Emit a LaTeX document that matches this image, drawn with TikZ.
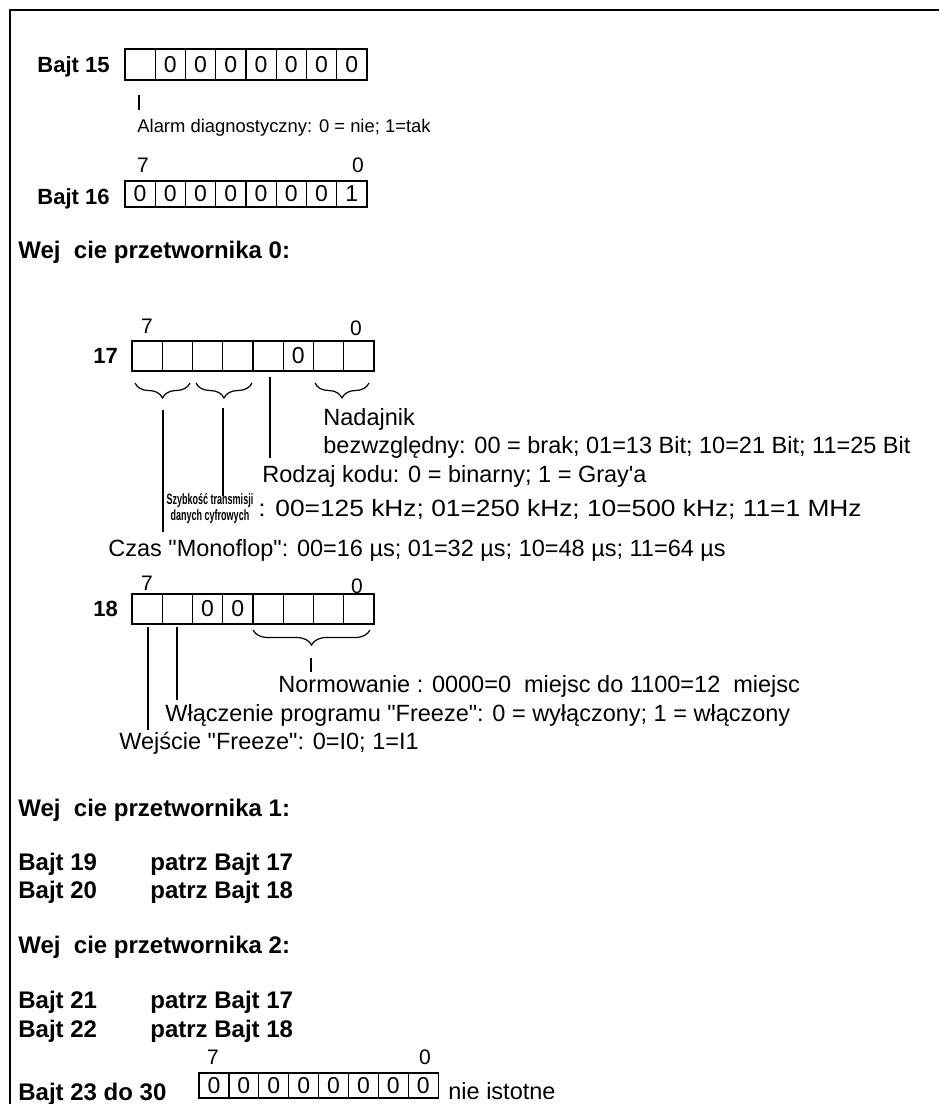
\documentclass[tikz,border=0pt]{standalone}
\usepackage{fontspec}
\newfontfamily\arial{Liberation Sans}
\usetikzlibrary{decorations.pathreplacing}
\newcommand\byterow[6]{% name, x left, y top, cell width, height, values
  \foreach \v [count=\i from 0] in {#6}
    \node[cell, minimum width=#4*0.5pt, minimum height=#5*0.5pt] (#1-\i) at ({#2+#4*\i+#4/2},{#3+#5/2}) {\v};}
\begin{document}
\begin{tikzpicture}[x=0.5pt,y=-0.5pt,
  cell/.style={draw, line width=0.6pt, inner sep=0pt, font=\arial\fontsize{11.5}{13}\selectfont},
  lbl/.style={anchor=base west, inner sep=0pt, font=\arial\fontsize{11.75}{14}\selectfont},
  hd/.style={anchor=base west, inner sep=0pt, font=\arial\fontsize{12}{14}\selectfont\bfseries},
  hds/.style={anchor=base west, inner sep=0pt, font=\arial\fontsize{11}{13}\selectfont\bfseries},
  bitno/.style={anchor=base, inner sep=0pt, font=\arial\fontsize{10.5}{12}\selectfont},
  conn/.style={line width=0.6pt},
  curly/.style={line width=0.6pt, decorate, decoration={brace, mirror, amplitude=7.5pt}},
  frame/.style={line width=1.3pt}
]
\useasboundingbox (0,0) rectangle (939,1104);
% frame (left and top only)
\coordinate (fA) at (10,1104);
\coordinate (fB) at (10,10);
\coordinate (fC) at (939,10);
\draw[frame] (fA) -- (fB) -- (fC);

% ---- Bajt 15
\node[hds] (lb15) at (37,72) {Bajt 15};
\byterow{b15}{125}{49}{30.25}{31}{\relax,0,0,0,0,0,0,0}
\coordinate (t15a) at (139,95);
\coordinate (t15b) at (139,110);
\draw[conn] (t15a) -- (t15b);
\node[lbl, font=\arial\fontsize{9.2}{11}\selectfont] (alarm) at (137,132) {Alarm diagnostyczny: 0 = nie; 1=tak};

% ---- Bajt 16
\node[bitno] (b16hi) at (143,172) {7};
\node[bitno] (b16lo) at (358,172) {0};
\node[hds] (lb16) at (37,204) {Bajt 16};
\byterow{b16}{125}{181}{30.25}{26}{0,0,0,0,0,0,0,1}

% ---- Wejscie przetwornika 0
\node[hd] (w0) at (18,258) {Wej\ \ cie przetwornika 0:};

% ---- 17
\node[bitno] (r17hi) at (147,333) {7};
\node[bitno] (r17lo) at (356,335) {0};
\node[hds] (l17) at (93,363) {17};
\byterow{r17}{132}{341}{30.25}{30}{\relax,\relax,\relax,\relax,\relax,0,\relax,\relax}
\coordinate (br1a) at (135,383); \coordinate (br1b) at (190,383);
\coordinate (br2a) at (196,383); \coordinate (br2b) at (252,383);
\coordinate (br3a) at (315,383); \coordinate (br3b) at (369,383);
\draw[curly] (br1a) -- (br1b);
\draw[curly] (br2a) -- (br2b);
\draw[curly] (br3a) -- (br3b);
\coordinate (l1a) at (163,410); \coordinate (l1b) at (163,532);
\coordinate (l2a) at (223,408); \coordinate (l2b) at (223,496);
\coordinate (l3a) at (270,377); \coordinate (l3b) at (270,458);
\draw[conn] (l1a) -- (l1b);
\draw[conn] (l2a) -- (l2b);
\draw[conn] (l3a) -- (l3b);
\node[lbl] (nad) at (323,425) {Nadajnik};
\node[lbl] (bez) at (323,453) {bezwzględny: 00 = brak; 01=13 Bit; 10=21 Bit; 11=25 Bit};
\node[lbl] (rod) at (262,482) {Rodzaj kodu: 0 = binarny; 1 = Gray\symbol{39}a};
\node[inner sep=0pt, align=center, font=\arial\fontsize{7.5}{6.6}\selectfont\bfseries] (szyb) at (210,509)
  {\scalebox{0.6}[1]{Szybkość transmisji}\\\scalebox{0.6}[1]{danych cyfrowych}};
\node[lbl] (khz) at (258,516) {\scalebox{1.12}[1]{: 00=125 kHz; 01=250 kHz; 10=500 kHz; 11=1 MHz}};
\node[lbl] (czas) at (108,556) {Czas "Monoflop": 00=16 µs; 01=32 µs; 10=48 µs; 11=64 µs};

% ---- 18
\node[bitno] (r18hi) at (147,590) {7};
\node[bitno] (r18lo) at (357,593) {0};
\node[hds] (l18) at (93,616) {18};
\byterow{r18}{132}{594}{30.25}{30}{\relax,\relax,0,0,\relax,\relax,\relax,\relax}
\coordinate (br4a) at (253,630); \coordinate (br4b) at (370,630);
\draw[curly] (br4a) -- (br4b);
\coordinate (l4a) at (311,658); \coordinate (l4b) at (311,672);
\coordinate (l5a) at (148,627); \coordinate (l5b) at (148,730);
\coordinate (l6a) at (177,627); \coordinate (l6b) at (177,700);
\draw[conn] (l4a) -- (l4b);
\draw[conn] (l5a) -- (l5b);
\draw[conn] (l6a) -- (l6b);
\node[lbl] (norm) at (278,692) {Normowanie : 0000=0\ \ miejsc do 1100=12\ \ miejsc};
\node[lbl] (wlacz) at (165,721) {Włączenie programu "Freeze": 0 = wyłączony; 1 = włączony};
\node[lbl] (wejf) at (119,749) {Wejście "Freeze": 0=I0; 1=I1};

% ---- przetwornik 1 / 2
\node[hd] (w1) at (18,816) {Wej\ \ cie przetwornika 1:};
\node[hd] (b19) at (18,870) {Bajt 19};
\node[hd] (p19) at (150,870) {patrz Bajt 17};
\node[hd] (b20) at (18,898) {Bajt 20};
\node[hd] (p20) at (150,898) {patrz Bajt 18};
\node[hd] (w2) at (18,953) {Wej\ \ cie przetwornika 2:};
\node[hd] (b21) at (18,1008) {Bajt 21};
\node[hd] (p21) at (150,1008) {patrz Bajt 17};
\node[hd] (b22) at (18,1037) {Bajt 22};
\node[hd] (p22) at (150,1037) {patrz Bajt 18};

% ---- Bajt 23 do 30
\node[bitno] (r23hi) at (213,1064) {7};
\node[bitno] (r23lo) at (425,1064) {0};
\node[hd] (b23) at (18,1100) {Bajt 23 do 30};
\byterow{r23}{199}{1073}{29.9}{25}{0,0,0,0,0,0,0,0}
\node[lbl] (nie) at (448,1099) {nie istotne};
\end{tikzpicture}
\end{document}
